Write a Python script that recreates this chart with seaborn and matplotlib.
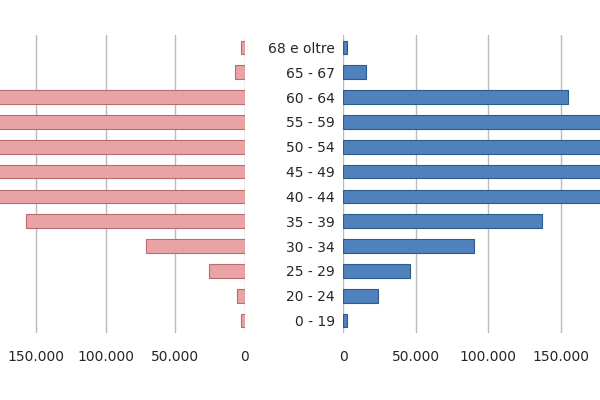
import pandas as pd
import seaborn as sns
import matplotlib.pyplot as plt
from matplotlib.ticker import FuncFormatter

sns.set_style("white")

classi = ["68 e oltre", "65 - 67", "60 - 64", "55 - 59", "50 - 54", "45 - 49",
          "40 - 44", "35 - 39", "30 - 34", "25 - 29", "20 - 24", "0 - 19"]
femmine = [3000, 7000, 185000, 192000, 195000, 193000, 190000, 157000, 71000, 26000, 6000, 3000]
maschi = [3000, 16000, 155000, 195000, 200000, 200000, 198000, 137000, 90000, 46000, 24000, 3000]

df = pd.DataFrame({"classe": classi, "femmine": femmine, "maschi": maschi})

fig = plt.figure(figsize=(6, 4), dpi=100)
top, bottom = 1 - 35 / 400, 1 - 333 / 400
axl = fig.add_axes([0, bottom, 245 / 600, top - bottom])
axr = fig.add_axes([343 / 600, bottom, 257 / 600, top - bottom])

sns.barplot(data=df, y="classe", x="femmine", ax=axl, color="#E9A3A5",
            edgecolor="#B86C70", linewidth=0.8, width=0.55, saturation=1)
sns.barplot(data=df, y="classe", x="maschi", ax=axr, color="#4F81BD",
            edgecolor="#2E5A8C", linewidth=0.8, width=0.55, saturation=1)

fmt = FuncFormatter(lambda v, p: f"{int(v):,}".replace(",", "."))
axl.set_xlim(176000, 0)
axr.set_xlim(0, 177000)
for ax in (axl, axr):
    ax.set_xticks([0, 50000, 100000, 150000])
    ax.xaxis.set_major_formatter(fmt)
    ax.xaxis.grid(True, color="#BBBBBB", linewidth=1)
    ax.set_axisbelow(True)
    ax.set_xlabel("")
    ax.set_ylabel("")
    ax.tick_params(axis="x", labelsize=10, length=0, pad=12)
    for s in ax.spines.values():
        s.set_visible(False)

axl.set_yticks([])
axr.tick_params(axis="y", labelsize=10, length=0, pad=6)
axr.set_yticklabels(classi)

fig.savefig("out.png", dpi=100)
